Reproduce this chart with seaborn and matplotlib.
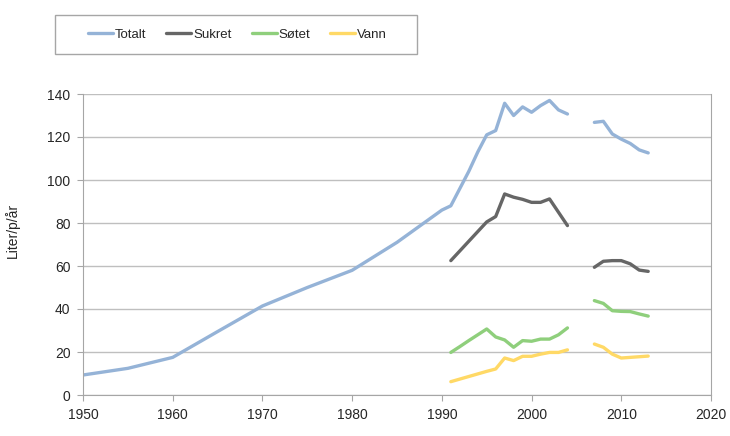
import numpy as np
import pandas as pd
import matplotlib
matplotlib.use('Agg')
import matplotlib.pyplot as plt
from matplotlib.patches import Rectangle
import seaborn as sns

# Totalt har lengre historikk, de andre serier fra 1991
years_total = [1950, 1955, 1960, 1965, 1970, 1975, 1980, 1985, 1990,
               1991, 1992, 1993, 1994, 1995, 1996, 1997, 1998, 1999, 2000,
               2001, 2002, 2003, 2004, 2005, 2006,
               2007, 2008, 2009, 2010, 2011, 2012, 2013]
totalt = [9.3, 12.4, 17.5, 29.5, 41.4, 50, 58, 71, 86,
          88, 96, 104, 113, 121, 123, 135.7, 130, 134, 131.5,
          134.6, 137, 132.6, 130.7, None, None,
          126.8, 127.3, 121.4, 119, 117, 114, 112.6]

years = [1991, 1992, 1993, 1994, 1995, 1996, 1997, 1998, 1999, 2000,
         2001, 2002, 2003, 2004, 2005, 2006,
         2007, 2008, 2009, 2010, 2011, 2012, 2013]
sukret = [62.5, 67, 71.5, 76, 80.5, 83, 93.5, 92, 91, 89.6,
          89.6, 91.2, 85, 78.8, None, None,
          59.4, 62.2, 62.5, 62.5, 61, 58.1, 57.5]
sotet = [19.8, 22.5, 25.3, 28, 30.7, 27, 25.6, 22.2, 25.3, 25,
         26, 26, 28, 31.2, None, None,
         43.9, 42.6, 39.2, 38.9, 38.8, 37.7, 36.7]
vann = [6.2, 7.4, 8.6, 9.8, 11, 12.1, 17.2, 16, 18, 18,
        19, 19.8, 19.8, 21, None, None,
        23.7, 22.2, 19, 17.2, 17.5, 17.8, 18.1]

series = ['Totalt', 'Sukret', 'Søtet', 'Vann']
colors = ['#95B3D7', '#666666', '#8FCF7C', '#FFD966']


def long_form(name, xs, ys):
    rows = []
    seg = 0
    for x, y in zip(xs, ys):
        if y is None:
            seg += 1
            continue
        rows.append({'År': x, 'Liter': y, 'Serie': name, 'seg': f'{name}-{seg}'})
    return rows


rows = (long_form('Totalt', years_total, totalt)
        + long_form('Sukret', years, sukret)
        + long_form('Søtet', years, sotet)
        + long_form('Vann', years, vann))
df = pd.DataFrame(rows)

sns.set_style('white')
plt.rcParams['font.family'] = ['Liberation Sans', 'DejaVu Sans']

W, H = 730, 436
fig = plt.figure(figsize=(W / 100, H / 100), dpi=100)
ax = fig.add_axes([83 / W, 41 / H, 628 / W, 301 / H])

sns.lineplot(data=df, x='År', y='Liter', hue='Serie', units='seg', estimator=None,
             hue_order=series, palette=colors, linewidth=2.4, ax=ax, legend=False)
for line in ax.lines:
    line.set_solid_joinstyle('round')
    line.set_solid_capstyle('round')

ax.set_xlim(1950, 2020)
ax.set_ylim(0, 140)
ax.set_xticks(range(1950, 2021, 10))
ax.set_yticks(range(0, 141, 20))
ax.yaxis.grid(True, color='#BFBFBF', linewidth=1)
ax.set_axisbelow(True)
for side in ['left', 'bottom', 'right']:
    ax.spines[side].set_color('#A6A6A6')
ax.spines['top'].set_visible(False)
ax.tick_params(axis='x', direction='out', length=4, color='#A6A6A6', labelsize=10,
               bottom=True, pad=5)
ax.tick_params(axis='y', direction='out', length=4, color='#A6A6A6', labelsize=10,
               left=True, pad=5)
ax.set_xlabel('')
ax.set_ylabel('')
fig.text(12 / W, 1 - 230 / H, 'Liter/p/år', rotation=90, fontsize=10,
         ha='center', va='center')

# legend box in the top left
fig.add_artist(Rectangle((55 / W, 1 - 54 / H), 362 / W, 39 / H, transform=fig.transFigure,
                         fill=False, edgecolor='#A6A6A6', linewidth=1))
handles = [plt.Line2D([], [], color=c, linewidth=2.4) for c in colors]
fig.legend(handles, series, loc='center', ncol=4,
           bbox_to_anchor=(237.5 / W, 1 - 34.5 / H),
           frameon=False, fontsize=9.5, handlelength=1.9, handletextpad=0.15,
           columnspacing=1.5, borderpad=0)

fig.savefig('out.png', dpi=100)
